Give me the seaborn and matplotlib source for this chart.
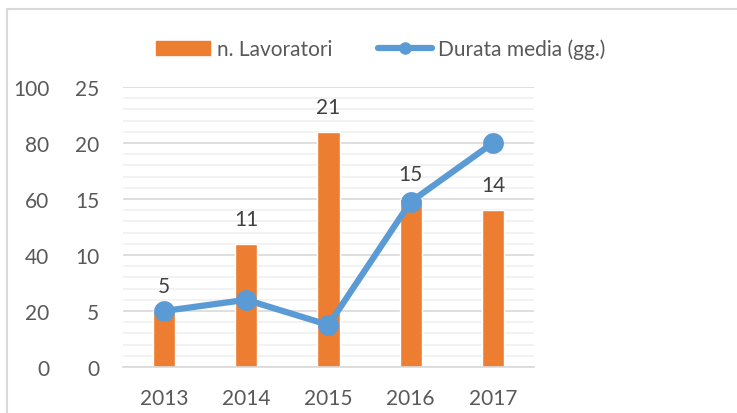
import matplotlib.pyplot as plt
import seaborn as sns
from matplotlib.patches import Rectangle
from matplotlib.lines import Line2D
from matplotlib.ticker import MultipleLocator

anni = ["2013", "2014", "2015", "2016", "2017"]
lavoratori = [5, 11, 21, 15, 14]
durata_media = [20, 24, 15, 59, 80]

orange = "#ED7D31"
blue = "#5B9BD5"
txt = "#595959"

sns.set_style("white")
plt.rcParams["font.family"] = ["Lato", "DejaVu Sans"]
fs = 15

W, H = 737, 414
fig = plt.figure(figsize=(W / 100, H / 100), dpi=100)
ax = fig.add_axes([123 / W, 46 / H, 411 / W, 280 / H])

# figure border (top and left visible)
fig.patches.append(Rectangle((7 / W, -0.1), 1.2, (H - 10) / H + 0.1,
                             transform=fig.transFigure, fill=False,
                             edgecolor="#D9D9D9", lw=1.5))

# bars
sns.barplot(x=anni, y=lavoratori, color=orange, width=0.27, ax=ax,
            saturation=1, zorder=2)
ax.set_ylim(0, 25)
ax.set_xlim(-0.5, 4.5)
ax.yaxis.set_major_locator(MultipleLocator(5))
ax.yaxis.set_minor_locator(MultipleLocator(1))
ax.grid(axis="y", which="major", color="#D9D9D9", lw=1.2, zorder=0)
ax.grid(axis="y", which="minor", color="#F0F0F0", lw=1.2, zorder=0)
ax.set_axisbelow(True)
for s in ["top", "right", "left"]:
    ax.spines[s].set_visible(False)
ax.spines["bottom"].set_color("#D9D9D9")
ax.spines["bottom"].set_linewidth(1.2)
ax.tick_params(axis="y", which="both", length=0, pad=17, labelsize=fs,
               labelcolor=txt)
ax.tick_params(axis="x", which="major", length=0, pad=15, labelsize=fs,
               labelcolor=txt)
ax.set_xticks([-0.5, 0.5, 1.5, 2.5, 3.5, 4.5], minor=True)
ax.tick_params(axis="x", which="minor", length=6, color="#D9D9D9", width=1.2)
ax.set_xlabel("")
ax.set_ylabel("")

for i, v in enumerate(lavoratori):
    ax.annotate(str(v), (i, v), xytext=(0, 18), textcoords="offset points",
                ha="center", va="center", fontsize=fs, color="#404040")

# line on second scale, labels also on the left
ax2 = ax.twinx()
sns.lineplot(x=list(range(len(anni))), y=durata_media, ax=ax2, color=blue,
             lw=4.5, marker="o", markersize=15, markeredgewidth=0, zorder=3)
ax2.set_ylim(0, 100)
ax2.yaxis.set_major_locator(MultipleLocator(20))
ax2.yaxis.tick_left()
ax2.tick_params(axis="y", length=0, pad=53, labelsize=fs, labelcolor=txt)
for s in ax2.spines.values():
    s.set_visible(False)
ax2.set_ylabel("")

handles = [Rectangle((0, 0), 1, 1, color=orange),
           Line2D([], [], color=blue, lw=4.5, marker="o", markersize=8)]
fig.legend(handles, ["n. Lavoratori", "Durata media (gg.)"],
           loc="center", bbox_to_anchor=(381 / W, 1 - 50 / H), ncol=2,
           frameon=False, fontsize=fs, labelcolor=txt, handlelength=2.6,
           handleheight=0.6, handletextpad=0.3, columnspacing=2.2)

fig.savefig("out.png", dpi=100)
